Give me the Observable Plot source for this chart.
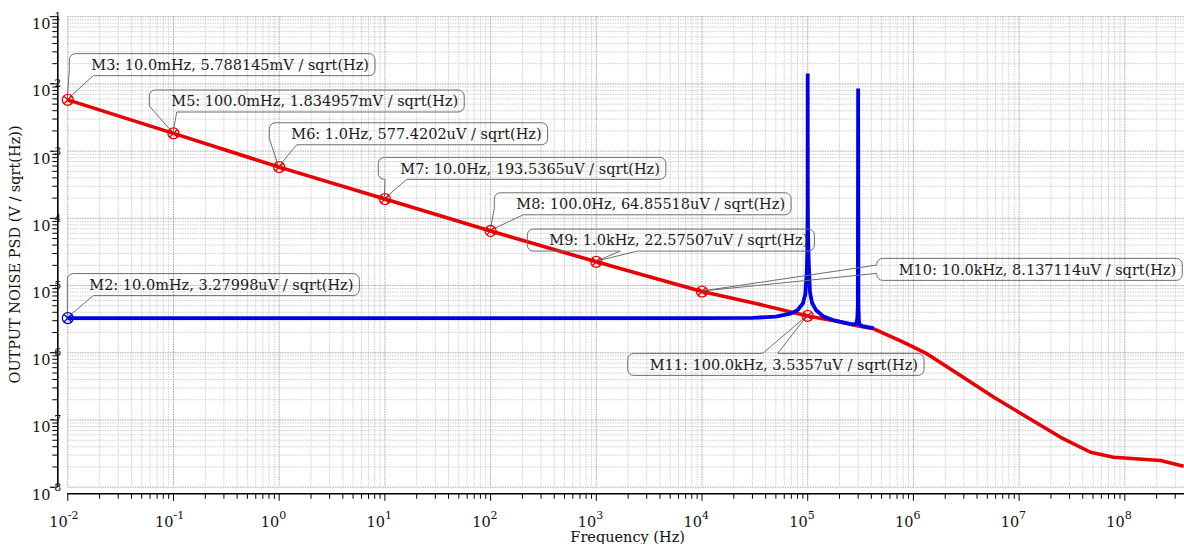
<!DOCTYPE html>
<html><head><meta charset="utf-8">
<script src="https://cdn.jsdelivr.net/npm/d3@7"></script>
<script src="https://cdn.jsdelivr.net/npm/@observablehq/plot@0.6"></script>
<style>
html,body{margin:0;padding:0;background:#fff;overflow:hidden;}
#chart svg{display:block;}
</style></head><body><div id="chart"></div>
<script>
// ---------------- data ----------------
const redFreq = [1e-2, 1e-1, 1, 10, 100, 1e3, 3e3, 1e4, 3e4, 1e5, 2e5, 3e5, 4.22e5, 6e5, 8.1e5, 1.35e6, 2.79e6, 5.77e6, 1.19e7, 2.47e7, 4.74e7, 7.83e7, 2.18e8, 3.6e8];
const redPSD  = [5.788145e-3, 1.834957e-3, 577.4202e-6, 193.5365e-6, 64.85518e-6, 22.57507e-6, 1.39e-5, 8.137114e-6, 5.56e-6, 3.5357e-6, 2.9e-6, 2.5e-6, 2.27e-6, 1.77e-6, 1.43e-6, 9.6e-7, 4.58e-7, 2.18e-7, 1.10e-7, 5.53e-8, 3.31e-8, 2.79e-8, 2.49e-8, 2.05e-8];

const blueFreq = [1e-2, 1e-1, 1, 10, 100, 1e3, 1e4, 3e4, 5e4, 7e4, 8e4, 9e4, 9.5e4, 9.8e4, 9.9e4, 9.95e4, 9.98e4, 1e5, 1.002e5, 1.005e5, 1.01e5, 1.02e5, 1.05e5, 1.1e5, 1.2e5, 1.4e5, 1.7e5, 2e5, 2.5e5, 2.8e5, 2.9e5, 2.95e5, 2.98e5, 3e5, 3.02e5, 3.05e5, 3.1e5, 3.3e5, 3.7e5, 4.2e5];
const bluePSD  = [3.27998e-6, 3.27998e-6, 3.27998e-6, 3.27998e-6, 3.27998e-6, 3.28e-6, 3.28e-6, 3.31e-6, 3.45e-6, 3.85e-6, 4.3e-6, 5.4e-6, 7.5e-6, 1.6e-5, 3e-5, 6e-5, 1.5e-4, 1.43e-2, 2.5e-4, 1e-4, 5e-5, 2.5e-5, 8e-6, 5.5e-6, 4.3e-6, 3.5e-6, 3.1e-6, 2.9e-6, 2.7e-6, 2.65e-6, 2.8e-6, 3.3e-6, 5e-6, 8.55e-3, 5e-6, 3e-6, 2.6e-6, 2.5e-6, 2.4e-6, 2.32e-6];

const markerNames  = ["M2", "M3", "M5", "M6", "M7", "M8", "M9", "M10", "M11"];
const markerSeries = ["blue", "red", "red", "red", "red", "red", "red", "red", "red"];
const markerFreq   = [1e-2, 1e-2, 1e-1, 1, 10, 100, 1e3, 1e4, 1e5];
const markerPSD    = [3.27998e-6, 5.788145e-3, 1.834957e-3, 577.4202e-6, 193.5365e-6, 64.85518e-6, 22.57507e-6, 8.137114e-6, 3.5357e-6];
const markerFreqText  = ["10.0mHz", "10.0mHz", "100.0mHz", "1.0Hz", "10.0Hz", "100.0Hz", "1.0kHz", "10.0kHz", "100.0kHz"];
const markerValueText = ["3.27998uV", "5.788145mV", "1.834957mV", "577.4202uV", "193.5365uV", "64.85518uV", "22.57507uV", "8.137114uV", "3.5357uV"];
const markerUnit = " / sqrt(Hz)";

const xMajorTicks = [1e-2, 1e-1, 1e0, 1e1, 1e2, 1e3, 1e4, 1e5, 1e6, 1e7, 1e8];
const xTickExp    = ["-2", "-1", "0", "1", "2", "3", "4", "5", "6", "7", "8"];
const yMajorTicks = [1e-8, 1e-7, 1e-6, 1e-5, 1e-4, 1e-3, 1e-2, 1e-1];
const yTickExp    = ["-8", "-7", "-6", "-5", "-4", "-3", "-2", "-1"];
const xLabel = "Frequency (Hz)";
const yLabel = "OUTPUT NOISE PSD (V / sqrt(Hz))";

// ---------------- layout (pixel offsets of label balloons from their markers) ----------------
const balloonLayout = [
  {dx: 0,      dy: -44,   side: "bottom", b1: 2.7, b2: 26},
  {dx: 2,      dy: -45.7, side: "bottom", b1: 2.7, b2: 24},
  {dx: -23.7,  dy: -42.9, side: "bottom", b1: 2.4, b2: 27.4},
  {dx: -9.4,   dy: -43.9, side: "bottom", b1: 2.4, b2: 27.4},
  {dx: -6.1,   dy: -41.2, side: "bottom", b1: 6.7, b2: 28.4},
  {dx: 4.2,    dy: -37.7, side: "bottom", b1: 4,   b2: 29},
  {dx: -68.5,  dy: -32.2, side: "bottom", b1: 93,  b2: 110},
  {dx: 175.2,  dy: -32.7, side: "left",   b1: 6.7, b2: 15},
  {dx: -179.5, dy: 38,    side: "top",    b1: 135, b2: 150}
];

// ---------------- helpers ----------------
const FONT = "DejaVu Serif";
const RED = "#e60000", BLUE = "#0000e6";
const minorTicks = (lo, hi) => { const t = []; for (let e = lo; e < hi; e++) for (let d = 2; d <= 9; d++) t.push(d * Math.pow(10, e)); return t; };
const xMinor = minorTicks(-2, 9).filter(v => v <= 3.67e8);
const yMinor = minorTicks(-8, -1);

const circleX = {
  draw(ctx, size) {
    const r = Math.sqrt(size / Math.PI);
    ctx.moveTo(r, 0); ctx.arc(0, 0, r, 0, 2 * Math.PI);
    const s = r * 0.7071;
    ctx.moveTo(-s, -s); ctx.lineTo(s, s);
    ctx.moveTo(-s, s); ctx.lineTo(s, -s);
  }
};

const mctx = document.createElement("canvas").getContext("2d");
mctx.font = `14.5px "${FONT}"`;
const labels = markerNames.map((n, i) => `${n}: ${markerFreqText[i]}, ${markerValueText[i]}${markerUnit}`);

function balloonPath(x, y, w, h, r, L, tx, ty) {
  let p = `M${x + r},${y}`;
  if (L.side === "top") p += `L${x + L.b1},${y}L${tx},${ty}L${x + L.b2},${y}`;
  p += `L${x + w - r},${y}A${r},${r} 0 0 1 ${x + w},${y + r}`;
  p += `L${x + w},${y + h - r}A${r},${r} 0 0 1 ${x + w - r},${y + h}`;
  if (L.side === "bottom") {
    p += `L${x + L.b2},${y + h}L${tx},${ty}`;
    if (L.b1 >= r) p += `L${x + L.b1},${y + h}L${x + r},${y + h}A${r},${r} 0 0 1 ${x},${y + h - r}`;
    else p += `L${x},${y + h - r}`;
  } else {
    p += `L${x + r},${y + h}A${r},${r} 0 0 1 ${x},${y + h - r}`;
  }
  if (L.side === "left") p += `L${x},${y + L.b2}L${tx},${ty}L${x},${y + L.b1}`;
  p += `L${x},${y + r}A${r},${r} 0 0 1 ${x + r},${y}Z`;
  return p;
}

function balloons(index, scales) {
  const g = d3.create("svg:g").attr("font-family", FONT).attr("font-size", "14.5px").attr("text-anchor", "start");
  labels.forEach((s, i) => {
    const L = balloonLayout[i];
    const px = scales.x(markerFreq[i]), py = scales.y(markerPSD[i]);
    const tw = mctx.measureText(s).width;
    const w = tw + 22 + 6, h = 22;
    const bx = px + L.dx, by = py + L.dy;
    g.append("path").attr("d", balloonPath(bx, by, w, h, 6, L, px, py))
      .attr("fill", "none").attr("stroke", "#6e6e6e").attr("stroke-width", 1);
    g.append("text").attr("x", bx + 22).attr("y", by + 16.3).attr("text-anchor", "start").attr("fill", "#1a1a1a").text(s);
  });
  return g.node();
}

// ---------------- plot ----------------
const plot = Plot.plot({
  width: 1184, height: 544,
  marginLeft: 67.3, marginRight: 0, marginTop: 16.2, marginBottom: 57.3,
  style: {fontFamily: FONT, fontSize: "14.5px", background: "#fff", color: "#000", overflow: "visible"},
  x: {type: "log", domain: [1e-2, 3.67e8], axis: null},
  y: {type: "log", domain: [1e-8, 1e-1], axis: null},
  marks: [
    // grid
    Plot.ruleX(xMinor, {stroke: "#cfcfcf", strokeDasharray: "1.5,1", strokeWidth: 1}),
    Plot.ruleY(yMinor, {stroke: "#cfcfcf", strokeDasharray: "1.5,1", strokeWidth: 1}),
    Plot.ruleX(xMajorTicks, {stroke: "#a6a6a6", strokeDasharray: "1.5,1", strokeWidth: 1}),
    Plot.ruleY(yMajorTicks, {stroke: "#a6a6a6", strokeDasharray: "1.5,1", strokeWidth: 1}),
    // axis lines
    Plot.ruleX([1e-2], {dx: -10, stroke: "#000", strokeWidth: 1.6}),
    Plot.ruleY([1e-8], {dy: 6.6, stroke: "#000", strokeWidth: 1.6}),
    // ticks
    Plot.axisX(xMinor, {anchor: "bottom", tickSize: 5.5, dy: 6.6, fill: "none", label: null, stroke: "#000"}),
    Plot.axisX(xMajorTicks, {anchor: "bottom", tickSize: 7.5, dy: 6.6, fill: "none", label: null, stroke: "#000"}),
    Plot.axisY(yMinor, {anchor: "left", tickSize: 5, dx: -10, fill: "none", label: null, stroke: "#000"}),
    Plot.axisY(yMajorTicks, {anchor: "left", tickSize: 7.5, dx: -10, fill: "none", label: null, stroke: "#000"}),
    // tick labels
    Plot.text(xMajorTicks, {x: d => d, frameAnchor: "bottom", text: () => "10", textAnchor: "end", lineAnchor: "bottom", dy: 40, fontSize: 14.5, fill: "#111"}),
    Plot.text(xMajorTicks, {x: d => d, frameAnchor: "bottom", text: xTickExp, textAnchor: "start", lineAnchor: "bottom", dy: 31.5, fontSize: 11, fill: "#111"}),
    Plot.text(yMajorTicks, {y: d => d, frameAnchor: "left", text: () => "10", textAnchor: "end", lineAnchor: "bottom", dx: -17.3, dy: 12.5, fontSize: 14.5, fill: "#111"}),
    Plot.text(yMajorTicks, {y: d => d, frameAnchor: "left", text: yTickExp, textAnchor: "start", lineAnchor: "bottom", dx: -17.3, dy: 3.5, fontSize: 11, fill: "#111"}),
    // axis titles
    Plot.text([xLabel], {frameAnchor: "bottom", text: d => d, textAnchor: "middle", lineAnchor: "bottom", dy: 55, dx: 1.5, fontSize: 14.5, fill: "#111"}),
    Plot.text([yLabel], {frameAnchor: "left", text: d => d, textAnchor: "middle", rotate: -90, dx: -52, dy: 2.5, fontSize: 14.5, fill: "#111"}),
    // curves
    Plot.line(redPSD, {x: redFreq, y: redPSD, stroke: RED, strokeWidth: 3.6, strokeLinejoin: "round", strokeLinecap: "butt"}),
    Plot.line(bluePSD, {x: blueFreq, y: bluePSD, stroke: BLUE, strokeWidth: 3.8, strokeLinejoin: "bevel", strokeLinecap: "butt"}),
    // balloons
    balloons,
    // markers
    Plot.dot(markerPSD, {x: markerFreq, y: markerPSD, r: 5.5, symbol: circleX, fill: "none",
      stroke: markerSeries.map(s => s === "red" ? RED : BLUE), strokeWidth: 1.3})
  ]
});
document.getElementById("chart").appendChild(plot);
</script>
</body></html>
